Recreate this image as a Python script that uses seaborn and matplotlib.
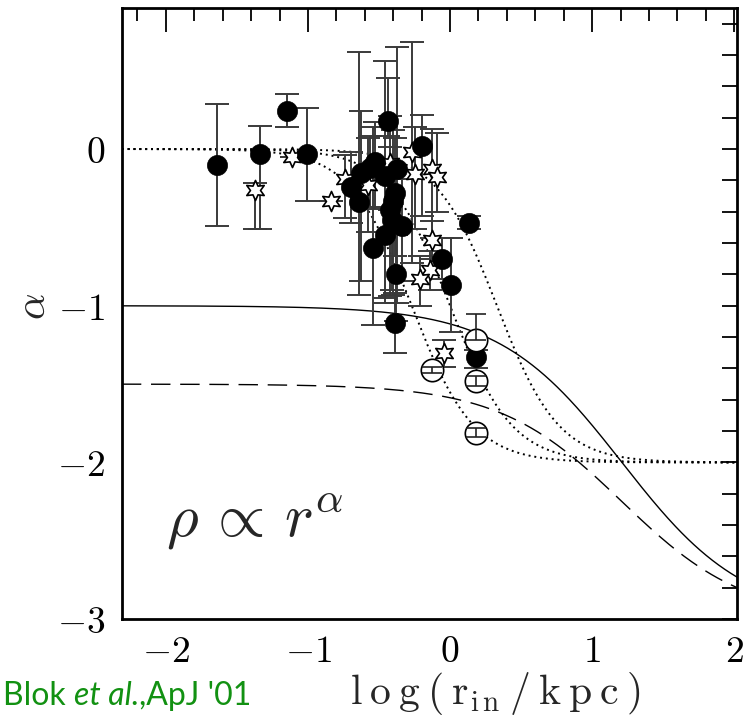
import numpy as np
import pandas as pd
import matplotlib
matplotlib.use("Agg")
import matplotlib.pyplot as plt
import seaborn as sns
from matplotlib.ticker import MultipleLocator, FixedLocator, FuncFormatter

# ---------------- data ----------------
# filled circles: log r_in, alpha, lower error, upper error
fill_x  = [-1.64, -1.34, -1.15, -1.01, -0.70, -0.64, -0.63, -0.56, -0.53, -0.54,
           -0.46, -0.44, -0.37, -0.39, -0.40, -0.42, -0.41, -0.34, -0.46, -0.38,
           -0.39, -0.20, -0.06, 0.01, 0.13, 0.18]
fill_y  = [-0.10, -0.03, 0.24, -0.03, -0.24, -0.34, -0.15, -0.12, -0.08, -0.63,
           -0.17, 0.18, -0.13, -0.28, -0.33, -0.39, -0.45, -0.49, -0.55, -0.80,
           -1.11, 0.02, -0.70, -0.87, -0.47, -1.33]
fill_lo = [0.39, 0.48, 0.10, 0.30, 0.23, 0.59, 0.69, 0.25, 0.30, 0.49,
           0.81, 0.10, 0.85, 0.40, 0.60, 0.55, 0.45, 0.35, 0.40, 0.30,
           0.19, 0.45, 0.13, 0.30, 0.04, 0.07]
fill_hi = [0.39, 0.18, 0.11, 0.29, 0.22, 0.96, 0.39, 0.20, 0.25, 0.77,
           0.73, 0.27, 0.78, 0.35, 0.45, 0.40, 0.30, 0.30, 0.35, 0.25,
           0.19, 0.20, 0.13, 0.30, 0.04, 0.05]

# open stars
star_x  = [-1.37, -1.11, -0.84, -0.74, -0.58, -0.42, -0.27, -0.25, -0.13, -0.09,
           -0.13, -0.14, -0.21, -0.04]
star_y  = [-0.26, -0.05, -0.33, -0.19, -0.23, -0.09, -0.02, -0.16, -0.13, -0.18,
           -0.58, -0.77, -0.83, -1.30]
star_lo = [0.25, 0.0, 0.0, 0.25, 0.30, 0.30, 0.71, 0.35, 0.44, 0.22,
           0.12, 0.13, 0.17, 0.09]
star_hi = [0.04, 0.0, 0.0, 0.15, 0.30, 0.30, 0.70, 0.30, 0.26, 0.28,
           0.12, 0.12, 0.15, 0.08]

# open circles
open_x  = [0.18, 0.18, 0.18, -0.13]
open_y  = [-1.22, -1.48, -1.81, -1.41]
open_lo = [0.00, 0.03, 0.03, 0.02]
open_hi = [0.17, 0.03, 0.03, 0.02]

# model curves: log core radii of the cored (dotted) profiles and log scale radius
core_logr = [-0.27, 0.00, 0.33]
scale_logr = 1.21

x_ticks = [-2, -1, 0, 1, 2]
y_ticks = [-3, -2, -1, 0]

# ---------------- figure ----------------
sns.set_style("white")
plt.rcParams["mathtext.fontset"] = "cm"
plt.rcParams["font.family"] = ["DejaVu Sans"]

fig = plt.figure(figsize=(7.43, 7.25), dpi=100)
ax = fig.add_axes([0.164, 0.146, 0.828, 0.843])

xmin, xmax = -2.31, 2.02
L = np.linspace(xmin, xmax, 500)

for lc in core_logr:
    a = -2.0 / (1.0 + 10 ** (-2.0 * (L - lc)))
    sns.lineplot(x=L, y=a, ax=ax, color="black", lw=1.4,
                 linestyle=(0, (1, 2.0)), zorder=1)
xs = 10 ** (L - scale_logr)
sns.lineplot(x=L, y=-1.0 - 2.0 * xs / (1 + xs), ax=ax, color="black",
             lw=1.0, zorder=1)
sns.lineplot(x=L, y=-1.5 - 1.5 * xs / (1 + xs), ax=ax, color="black",
             lw=1.0, linestyle=(0, (14, 7)), zorder=1)

ebkw = dict(fmt="none", ecolor="#3a3a3a", elinewidth=1.4, capsize=8.5,
            capthick=1.4)
ax.errorbar(fill_x, fill_y, yerr=[fill_lo, fill_hi], zorder=2, **ebkw)
ax.errorbar(star_x, star_y, yerr=[star_lo, star_hi], zorder=2, **ebkw)

df_fill = pd.DataFrame({"x": fill_x, "y": fill_y})
df_star = pd.DataFrame({"x": star_x, "y": star_y})
df_open = pd.DataFrame({"x": open_x, "y": open_y})

sns.scatterplot(data=df_star, x="x", y="y", ax=ax, marker=(6, 1, 0), s=210,
                facecolor="white", edgecolor="black", linewidth=1.2, zorder=3)
sns.scatterplot(data=df_fill, x="x", y="y", ax=ax, marker="o", s=210,
                color="black", edgecolor="black", linewidth=0.5, zorder=4)
sns.scatterplot(data=df_open, x="x", y="y", ax=ax, marker="o", s=260,
                facecolor="white", edgecolor="black", linewidth=1.2, zorder=4)
ax.errorbar(open_x, open_y, yerr=[open_lo, open_hi], zorder=5,
            fmt="none", ecolor="#222222", elinewidth=1.2, capsize=7,
            capthick=1.2)

ax.set_xlim(xmin, xmax)
ax.set_ylim(-3.0, 0.9)

ax.xaxis.set_major_locator(FixedLocator(x_ticks))
ax.yaxis.set_major_locator(FixedLocator(y_ticks))
ax.xaxis.set_minor_locator(MultipleLocator(0.2))
ax.yaxis.set_minor_locator(MultipleLocator(0.2))
fmt = FuncFormatter(lambda v, p: r"$%d$" % int(round(v)) if round(v) >= 0
                    else r"$-%d$" % int(round(-v)))
ax.xaxis.set_major_formatter(fmt)
ax.yaxis.set_major_formatter(fmt)
ax.tick_params(which="both", direction="in", top=True, right=True,
               labelsize=27, width=1.3, colors="black")
ax.tick_params(axis="x", which="major", length=17, pad=11)
ax.tick_params(axis="x", which="minor", length=9)
ax.tick_params(axis="y", which="major", length=11, pad=12)
ax.tick_params(axis="y", which="minor", length=11)
for sp in ax.spines.values():
    sp.set_linewidth(2.0)
    sp.set_color("black")

ax.set_xlabel(r"$\mathrm{l\:o\:g\:(\:r_{i\,n}\:/\:k\:p\:c\:)}$", fontsize=30)
ax.xaxis.set_label_coords(0.607, -0.139)
ax.xaxis.label.set_va("baseline")
ax.set_ylabel(r"$\alpha$", fontsize=30)
ax.yaxis.set_label_coords(-0.11, 0.512)

ax.text(-2.0, -2.47, r"$\rho\,\propto\,r^{\alpha}$", fontsize=44,
        va="baseline", ha="left")

fig.canvas.draw()
r = fig.canvas.get_renderer()
x0 = 0.004
parts = [("Blok ", "normal"), ("et al.", "italic"), (",ApJ '01", "normal")]
for s, st in parts:
    tt = fig.text(x0, 0.027, s, fontsize=23, color="#129112", style=st,
                  family=["Lato", "DejaVu Sans"], va="baseline", ha="left")
    bb = tt.get_window_extent(renderer=r)
    x0 += bb.width / fig.bbox.width

fig.savefig("out.png", dpi=100)
